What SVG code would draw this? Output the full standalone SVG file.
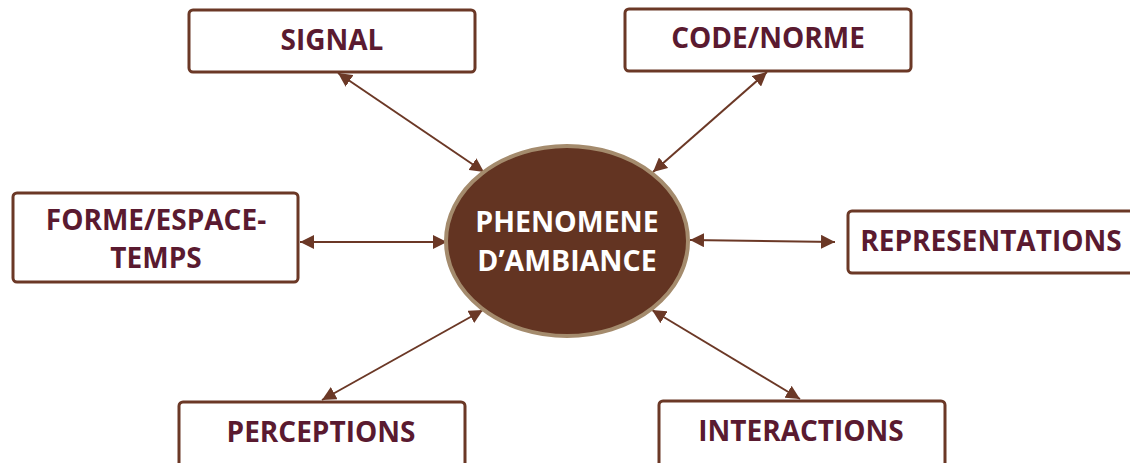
<svg xmlns="http://www.w3.org/2000/svg" width="1130" height="463" viewBox="0 0 1130 463">
<defs>
<marker id="ah" viewBox="0 0 10 10" refX="10" refY="5" markerWidth="7" markerHeight="7" orient="auto-start-reverse" markerUnits="strokeWidth">
<path d="M0,0 L10,5 L0,10 z" fill="#6b3826"/>
</marker>
<style>
.box{fill:#fff;stroke:#6b3826;stroke-width:3}
.lbl{font-family:"Open Sans","Liberation Sans",sans-serif;font-weight:700;font-size:28px;fill:#5a1a30;text-anchor:middle}
.ctr{font-family:"Open Sans","Liberation Sans",sans-serif;font-weight:700;font-size:28.5px;fill:#fff;text-anchor:middle}
.con{stroke:#6b3826;stroke-width:2;fill:none;marker-start:url(#ah);marker-end:url(#ah)}
</style>
</defs>
<rect width="1130" height="463" fill="#fff"/>
<g id="connectors">
<line class="con" x1="338" y1="73" x2="484" y2="172"/>
<line class="con" x1="767" y1="72" x2="653" y2="172"/>
<line class="con" x1="300" y1="242" x2="447" y2="242"/>
<line class="con" x1="690" y1="240" x2="835" y2="242"/>
<line class="con" x1="483" y1="310" x2="322" y2="400"/>
<line class="con" x1="652" y1="310" x2="800" y2="399"/>
</g>
<g id="center">
<ellipse cx="567" cy="241" rx="121" ry="95" fill="#633422" stroke="#a48b6d" stroke-width="4"/>
<text class="ctr" x="567" y="232">PHENOMENE</text>
<text class="ctr" x="567" y="271">D’AMBIANCE</text>
</g>
<g id="signal">
<rect class="box" x="189" y="10" width="286" height="62" rx="4"/>
<text class="lbl" x="332" y="50">SIGNAL</text>
</g>
<g id="code">
<rect class="box" x="625" y="9" width="286" height="62" rx="4"/>
<text class="lbl" x="768" y="48">CODE/NORME</text>
</g>
<g id="forme">
<rect class="box" x="13" y="193" width="285" height="89" rx="4"/>
<text class="lbl" x="156" y="230">FORME/ESPACE-</text>
<text class="lbl" x="156" y="268">TEMPS</text>
</g>
<g id="representations">
<rect class="box" x="848" y="211" width="290" height="62" rx="4"/>
<text class="lbl" x="991" y="251">REPRESENTATIONS</text>
</g>
<g id="perceptions">
<rect class="box" x="179" y="402" width="286" height="70" rx="4"/>
<text class="lbl" x="321" y="442">PERCEPTIONS</text>
</g>
<g id="interactions">
<rect class="box" x="659" y="401" width="286" height="70" rx="4"/>
<text class="lbl" x="801" y="441">INTERACTIONS</text>
</g>
</svg>
